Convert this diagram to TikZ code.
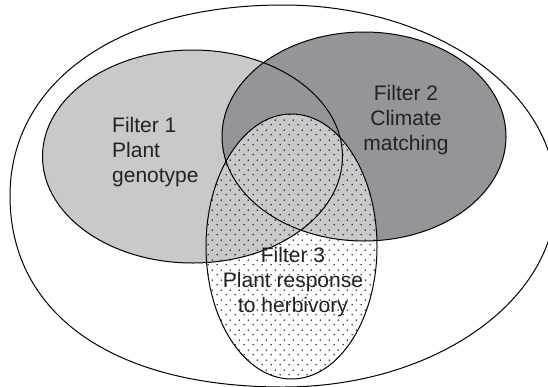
\documentclass[tikz,border=0pt]{standalone}
\usepackage{fontspec}
\setmainfont{Liberation Sans}
\usetikzlibrary{patterns}

% staggered fine dot screen used for the third filter
\pgfdeclarepatternformonly{finedots}{\pgfpointorigin}{\pgfpoint{8.6pt}{10pt}}{\pgfpoint{8.6pt}{10pt}}{%
  \pgfpathcircle{\pgfpoint{2.15pt}{2.5pt}}{0.8pt}%
  \pgfpathcircle{\pgfpoint{6.45pt}{7.5pt}}{0.8pt}%
  \pgfusepath{fill}}

\definecolor{lightfill}{HTML}{C8C9CB}
\definecolor{darkfill}{HTML}{949598}
\definecolor{inkgray}{HTML}{222222}

\begin{document}
\begin{tikzpicture}[x=1pt, y=-1pt,
  outline/.style={draw=black, line width=1pt},
  label/.style={text=inkgray, font=\fontsize{21}{25}\selectfont, inner sep=0pt}]

\useasboundingbox (0,0) rectangle (548,386);
\fill[white] (0,0) rectangle (548,386);

% extreme points of the enclosing outline
\coordinate (top)    at (283,5);
\coordinate (left)   at (10,196);
\coordinate (bottom) at (283,387);
\coordinate (right)  at (556,196);

% centres of the three filters
\coordinate (f1) at (192.5,156.5);
\coordinate (f2) at (364,136.5);
\coordinate (f3) at (291.5,246.5);

% filter 1 and filter 2
\fill[lightfill] (f1) ellipse [x radius=150, y radius=106.5];
\fill[darkfill]  (f2) ellipse [x radius=142, y radius=104.5];

% inside filter 3 the union of filters 1 and 2 is light grey
\begin{scope}
  \clip (f1) ellipse [x radius=150, y radius=106.5];
  \fill[lightfill] (f3) ellipse [x radius=85.5, y radius=132.5];
\end{scope}
\begin{scope}
  \clip (f2) ellipse [x radius=142, y radius=104.5];
  \fill[lightfill] (f3) ellipse [x radius=85.5, y radius=132.5];
\end{scope}

% dot screen of filter 3
\fill[pattern=finedots, pattern color=black] (f3) ellipse [x radius=85.5, y radius=132.5];

% enclosing outline, a little fuller on its left side
\path[outline] (top)
  .. controls (119.2,5) and (10,81.4) .. (left)
  .. controls (10,314.4) and (113.7,387) .. (bottom)
  .. controls (433.8,387) and (556,301.5) .. (right)
  .. controls (556,90.5) and (433.8,5) .. (top) -- cycle;

% filter outlines
\path[outline] (f1) ellipse [x radius=150, y radius=106.5];
\path[outline] (f2) ellipse [x radius=142, y radius=104.5];
\path[outline] (f3) ellipse [x radius=85.5, y radius=132.5];

% labels
\node[label, align=left, anchor=north west] (t1) at (112,116.6) {Filter 1\\Plant\\genotype};
\node[label, align=center, anchor=north] (t2) at (406,84.6) {Filter 2\\Climate\\matching};
\node[label, align=center, anchor=north] (t3) at (293,246.6) {Filter 3\\Plant response\\to herbivory};

\end{tikzpicture}
\end{document}
